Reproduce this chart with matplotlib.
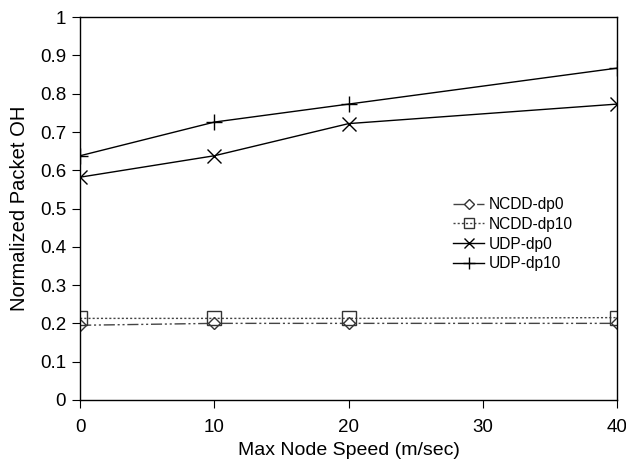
import matplotlib
matplotlib.use("Agg")
import matplotlib.pyplot as plt

plt.rcParams['font.family'] = ['Liberation Sans', 'DejaVu Sans']

speeds = [0, 10, 20, 40]
ncdd_dp0 = [0.195, 0.200, 0.200, 0.200]
ncdd_dp10 = [0.213, 0.213, 0.213, 0.215]
udp_dp0 = [0.582, 0.638, 0.722, 0.773]
udp_dp10 = [0.638, 0.726, 0.773, 0.867]
xticks = [0, 10, 20, 30, 40]
yticks = [0, 0.1, 0.2, 0.3, 0.4, 0.5, 0.6, 0.7, 0.8, 0.9, 1]
ytick_labels = ['0', '0.1', '0.2', '0.3', '0.4', '0.5', '0.6', '0.7', '0.8', '0.9', '1']

fig = plt.figure(figsize=(6.26, 4.65), dpi=100)
ax = fig.add_axes([0.128, 0.140, 0.858, 0.823])

ax.plot(speeds, ncdd_dp0, color='#444444', linestyle=(0, (8, 2, 1.5, 2, 1.5, 2)), linewidth=1,
        marker='D', markersize=6.5, markerfacecolor='white', markeredgecolor='#333333', label='NCDD-dp0')
ax.plot(speeds, ncdd_dp10, color='#444444', linestyle=(0, (1.5, 1.5)), linewidth=1,
        marker='s', markersize=10, markerfacecolor='none', markeredgecolor='#333333', label='NCDD-dp10')
ax.plot(speeds, udp_dp0, color='black', linestyle='-', linewidth=1,
        marker='x', markersize=10, markeredgewidth=1, label='UDP-dp0')
ax.plot(speeds, udp_dp10, color='black', linestyle='-', linewidth=1,
        marker='+', markersize=12, markeredgewidth=1, label='UDP-dp10')

ax.set_xlim(0, 40)
ax.set_ylim(0, 1)
ax.set_xticks(xticks)
ax.set_yticks(yticks)
ax.set_yticklabels(ytick_labels)
ax.tick_params(direction='out', length=6, labelsize=13.5, pad=4)
ax.tick_params(axis='x', pad=8)
ax.set_xlabel('Max Node Speed (m/sec)', fontsize=14, labelpad=4)
ax.set_ylabel('Normalized Packet OH', fontsize=14.5, labelpad=8)
for s in ax.spines.values():
    s.set_linewidth(1)

ax.legend(loc='upper left', bbox_to_anchor=(0.68, 0.55), frameon=False, fontsize=11.2,
          handlelength=2.0, handletextpad=0.3, labelspacing=0.3, borderpad=0, markerscale=0.75)

fig.savefig('out.png', dpi=100)
